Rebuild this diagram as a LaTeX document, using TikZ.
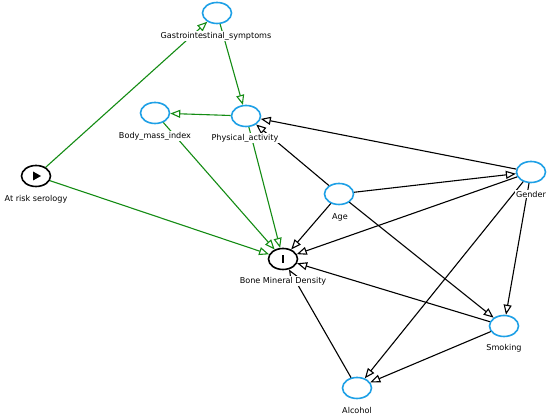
\documentclass[tikz,border=0pt]{standalone}
\usepackage{fontspec}
\setmainfont{DejaVu Sans}
\usetikzlibrary{arrows.meta,shapes.geometric}
\definecolor{dagblue}{RGB}{30,160,230}
\definecolor{daggreen}{RGB}{20,140,20}
\begin{document}
\begin{tikzpicture}[x=1pt,y=-1pt,
  var/.style={ellipse, draw=dagblue, line width=1.6pt, fill=white, minimum width=29pt, minimum height=21pt, inner sep=0pt},
  keyvar/.style={var, draw=black},
  lbl/.style={fill=white, inner sep=1pt, font=\fontsize{8.1}{9}\selectfont},
  edge/.style={line width=1.1pt, -{Triangle[open,length=10pt,width=8pt]}},
  gedge/.style={edge, draw=daggreen},
]
\useasboundingbox[fill=white] (0,0) rectangle (550,419);
% variables
\node[var] (gi) at (217,13) {};
\node[var] (bmi) at (155,113) {};
\node[var] (pa) at (246,116) {};
\node[keyvar] (ar) at (36,176) {};
\node[var] (age) at (339,194) {};
\node[var] (gen) at (531,172) {};
\node[keyvar] (bmd) at (283,259) {};
\node[var] (smk) at (504,326) {};
\node[var] (alc) at (357,388) {};
% symbols
\fill (33,171.5) -- (41,176) -- (33,180.5) -- cycle;
\fill (281.8,255) rectangle (284.2,263);
% green edges
\draw[gedge] (ar) -- (gi);
\draw[gedge] (gi) -- (pa);
\draw[gedge] (pa) -- (bmi);
\draw[gedge] (bmi) -- (bmd);
\draw[gedge] (pa) -- (bmd);
\draw[gedge] (ar) -- (bmd);
% black edges
\draw[edge] (gen) -- (pa);
\draw[edge] (age) -- (pa);
\draw[edge] (age) -- (gen);
\draw[edge] (age) -- (bmd);
\draw[edge] (age) -- (smk);
\draw[edge] (gen) -- (bmd);
\draw[edge] (gen) -- (smk);
\draw[edge] (gen) -- (alc);
\draw[edge] (smk) -- (bmd);
\draw[edge] (smk) -- (alc);
\draw[edge] (alc) -- (bmd);
% labels
\node[lbl] (gil) at (216,36) {Gastrointestinal\_symptoms};
\node[lbl] (bmil) at (155,136) {Body\_mass\_index};
\node[lbl] (pal) at (245,138) {Physical\_activity};
\node[lbl] (arl) at (36,199) {At risk serology};
\node[lbl] (agel) at (340,217) {Age};
\node[lbl] (genl) at (531,194) {Gender};
\node[lbl] (bmdl) at (283,281) {Bone Mineral Density};
\node[lbl] (smkl) at (504,348) {Smoking};
\node[lbl] (alcl) at (357,410) {Alcohol};
\end{tikzpicture}
\end{document}
